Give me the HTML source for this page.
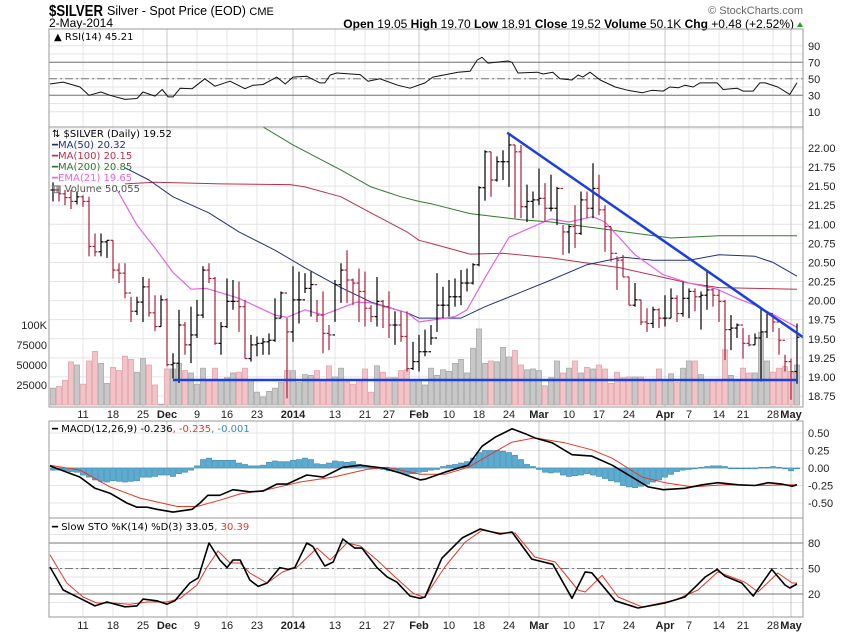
<!DOCTYPE html>
<html><head><meta charset="utf-8"><style>
html,body{margin:0;padding:0;background:#fff;}
svg{display:block;font-family:"Liberation Sans",sans-serif;}
.ax{font-size:11px;fill:#222;}
.lg{font-family:"DejaVu Sans",sans-serif;font-size:10px;}
</style></head><body>
<svg id="chart" width="850" height="633" viewBox="0 0 850 633" xmlns="http://www.w3.org/2000/svg">
<rect x="0" y="0" width="850" height="633" fill="#fff"/>
<defs>
<clipPath id="cR"><rect x="49" y="29" width="754" height="98"/></clipPath>
<clipPath id="cP"><rect x="49" y="127" width="754" height="280"/></clipPath>
<clipPath id="cM"><rect x="49" y="421" width="754" height="97"/></clipPath>
<clipPath id="cS"><rect x="49" y="518" width="754" height="99"/></clipPath>
</defs>
<text x="49" y="16" font-size="16" font-weight="bold" fill="#000" textLength="54" lengthAdjust="spacingAndGlyphs">$SILVER</text>
<text x="107" y="15" font-size="12.5" fill="#000">Silver - Spot Price (EOD) <tspan font-size="11">CME</tspan></text>
<text x="49" y="27" font-size="12" fill="#000">2-May-2014</text>
<text x="803" y="14" font-size="11" fill="#666" text-anchor="end">© StockCharts.com</text>
<text x="794" y="28" font-size="12" fill="#000" text-anchor="end"><tspan font-weight="bold">Open</tspan> 19.05 <tspan font-weight="bold">High</tspan> 19.70 <tspan font-weight="bold">Low</tspan> 18.91 <tspan font-weight="bold">Close</tspan> 19.52 <tspan font-weight="bold">Volume</tspan> 50.1K <tspan font-weight="bold">Chg</tspan> +0.48 (+2.52%)</text>
<polygon points="797,27 803,27 800,22" fill="#2a9a2a"/>
<g id="layer"></g>
</svg>
<script>
// ---------- data ----------
const dateLabelIdx=[5,10,15,19,24,29,34,40,47,52,56,61,66,71,76,81,86,91,96,102,106,111,115,120,123];
const dateLabels=['11','18','25','Dec','9','16','23','2014','13','21','27','Feb','10','18','24','Mar','10','17','24','Apr','7','14','21','28','May'];
const highs=[21.55,21.50,21.45,21.45,21.43,21.38,21.36,20.88,20.88,20.79,20.79,20.49,20.49,20.05,20.05,20.31,20.29,20.07,20.07,20.03,19.31,19.88,19.72,19.92,20.01,20.45,20.49,20.31,19.72,20.29,20.27,20.25,20.01,19.55,19.53,19.51,19.57,20.03,20.12,19.77,20.45,20.38,20.36,20.38,20.01,20.12,19.68,20.27,20.49,20.66,20.29,20.42,20.38,19.94,20.31,20.01,20.12,19.86,19.86,19.86,19.46,19.55,19.62,19.68,20.36,20.18,20.27,20.29,20.40,20.42,20.49,21.50,21.97,21.95,21.89,21.97,22.19,22.04,22.04,21.52,21.43,21.73,21.54,21.65,21.49,20.99,20.99,21.25,21.43,21.43,21.80,21.65,21.25,20.97,20.58,20.60,20.31,20.23,20.01,19.90,19.92,19.90,20.07,20.16,20.07,20.25,20.16,20.16,20.12,20.40,20.16,20.14,20.01,19.81,19.70,19.64,19.55,19.57,19.90,19.83,19.81,19.64,19.29,19.24,19.70];
const lows=[21.30,21.30,21.25,21.20,21.26,21.23,20.58,20.58,20.58,20.56,20.29,20.23,20.03,19.72,19.81,19.72,19.79,19.60,19.66,19.14,18.98,18.92,19.29,19.18,19.51,19.77,20.23,19.42,19.29,19.64,19.88,19.59,19.24,19.20,19.27,19.29,19.29,19.46,19.77,18.72,19.46,19.70,20.10,19.79,19.72,19.31,19.35,19.72,19.97,19.97,19.94,19.72,19.66,19.72,19.66,19.64,19.51,19.42,19.46,19.07,19.09,19.07,19.27,19.42,19.59,19.77,19.79,19.92,19.94,20.12,20.21,20.45,21.31,21.36,21.56,21.58,21.49,21.08,21.08,21.03,21.08,21.25,21.03,21.17,20.99,20.60,20.62,20.69,20.86,21.08,21.08,21.12,20.64,20.51,20.14,20.31,19.94,19.92,19.68,19.59,19.64,19.64,19.66,19.77,19.72,19.79,19.77,19.86,19.62,19.88,19.92,19.72,19.22,19.35,19.51,19.24,19.40,19.42,18.94,19.51,19.59,19.29,19.07,18.70,18.91];
const closes=[21.45,21.40,21.35,21.30,21.36,21.30,20.71,20.64,20.77,20.79,20.40,20.36,20.10,19.86,19.98,20.18,19.84,19.66,20.01,19.16,19.18,19.68,19.42,19.55,19.81,20.40,20.29,19.44,19.66,19.99,19.99,19.92,19.24,19.42,19.44,19.46,19.48,19.77,20.10,19.59,20.01,20.01,20.16,20.21,19.81,19.57,19.55,20.21,20.40,20.27,20.23,20.12,19.90,19.79,19.99,19.92,19.68,19.68,19.53,19.11,19.20,19.33,19.33,19.51,19.94,19.94,20.05,20.05,20.23,20.23,20.47,21.48,21.95,21.58,21.82,21.82,22.04,21.95,21.23,21.30,21.32,21.34,21.21,21.21,21.47,20.90,20.97,20.88,21.32,21.21,21.47,21.19,20.97,20.62,20.53,20.31,19.94,20.01,19.72,19.70,19.88,19.77,19.77,20.03,19.83,20.03,20.12,20.05,20.07,20.14,20.07,19.99,19.62,19.64,19.68,19.44,19.42,19.51,19.59,19.83,19.72,19.48,19.20,19.07,19.52];
const volumesK=[21,23,31,54,50,26,55,67,52,27,47,43,61,57,41,58,50,25,1,45,45,52,43,40,26,46,31,46,31,34,40,41,46,31,16,10,17,21,28,43,43,28,38,37,43,31,49,35,46,29,26,32,45,16,49,41,34,34,43,44,30,32,25,46,37,44,42,52,57,40,71,95,52,55,54,72,60,68,50,44,45,43,24,34,55,40,46,55,40,47,45,50,45,27,41,34,35,35,35,30,30,45,31,39,28,46,55,55,38,31,31,32,69,37,31,46,40,40,91,55,41,46,48,42,50];
const ma50Idx=[12,16,20,26,31,37,42,48,53,59,61,68,72,78,83,89,95,100,106,111,117,120,124];
const ma50Val=[21.74,21.58,21.36,21.15,20.9,20.66,20.43,20.17,19.98,19.84,19.77,19.77,19.92,20.11,20.27,20.47,20.57,20.53,20.53,20.6,20.58,20.5,20.32];
const ma100Idx=[12,17,28,39.5,42,48,53,59,61,63,69.5,75,83,94.5,106,111,117,124];
const ma100Val=[21.53,21.55,21.53,21.52,21.49,21.36,21.15,20.9,20.79,20.75,20.61,20.62,20.56,20.43,20.23,20.17,20.16,20.15];
const ma200Idx=[32,34.5,40,48,53,58,61,63,69.5,78,83,94.5,103,111,124];
const ma200Val=[22.45,22.3,22.04,21.71,21.49,21.36,21.3,21.27,21.14,21.06,21.03,20.91,20.82,20.85,20.85];
const emaIdx=[10.7,14,17,20,23,25.6,31,37,39,42,45,50.6,53,59,61,67,69,72,76,80.6,83,86,90,92,97,101.7,106,110.7,114,117,119.5,124];
const emaVal=[21.45,20.99,20.69,20.37,20.15,20.16,20.03,19.81,19.78,19.88,19.81,19.98,19.97,19.84,19.72,19.79,19.88,20.3,20.83,20.99,21.07,21.03,21.1,21.03,20.6,20.34,20.23,20.15,20.03,19.94,19.84,19.65];
const trendIdx=[75.7,125];
const trendVal=[22.2,19.52];
const supportIdx=[20,124];
const supportVal=[18.96,18.96];
const rsiIdx=[-0.5,1.7,4.5,6,8,9.5,12,14,15,17,18.2,19.2,20,21.2,23.2,25.3,27,29.5,32,33.3,35,37.3,38.7,40,42.3,44.5,45.3,46.2,47.3,51.2,52.5,54.5,57.5,59.5,62,63.3,67.5,69.5,70.7,71.5,72.5,75.8,76.5,77.5,80.7,81.7,83.3,84.5,86.5,87.5,88.3,89.5,91.2,93.7,95.8,98.2,99.8,101.7,102.8,104.2,105.3,106.7,107.8,109,110.7,111.7,114,115,116.7,117.8,118.7,120.8,122.8,124];
const rsiVal=[43.6,46,40,30,34,30,25,26,34,29,37,28,28,38.5,38,50,41,47,38,42,43,52,43.6,52,53,45,45,54.5,57,55,47,50,42,38.5,45,52,58,59,72.7,76,69,71.5,70,57,58,55.8,58,50,48.5,54.5,52,58,48.5,40,36,33,36,35,40,39,42,40,45,45,45,37,38.5,35,35,45,45,40,31,45.2];
const macdIdx=[-0.5,4.5,7,9.5,12.3,14,15.7,17.3,20,23.2,24.5,25.8,27.8,30,32.8,35,37.3,39,42.3,45,48.3,51.2,55,57.8,61.2,62,65.3,69.2,71.5,73.7,76.5,78.7,80.3,83.2,86.5,89.8,93.2,96.5,99.2,101.7,105.3,108.2,110.8,114.2,117,119.2,121.5,123.2,124];
const macdVal=[0.03,-0.13,-0.29,-0.36,-0.5,-0.56,-0.56,-0.59,-0.63,-0.59,-0.5,-0.39,-0.39,-0.31,-0.34,-0.33,-0.23,-0.23,-0.1,-0.13,0.01,0.04,0,-0.07,-0.17,-0.16,-0.06,0.04,0.31,0.44,0.56,0.49,0.43,0.36,0.19,0.17,0.04,-0.13,-0.27,-0.31,-0.29,-0.24,-0.21,-0.24,-0.25,-0.21,-0.23,-0.26,-0.24];
const signalIdx=[-0.5,4.5,9.5,14.5,20.7,24,27.8,31.2,35.7,41.2,46.7,52.3,55.7,61.2,65.3,69.2,73.2,76.5,80.3,85.3,89.8,93.2,98.2,102,106.5,112,117,124];
const signalVal=[0.04,-0.03,-0.27,-0.43,-0.55,-0.55,-0.46,-0.37,-0.31,-0.2,-0.13,-0.02,0.01,-0.09,-0.09,0.01,0.21,0.37,0.43,0.36,0.26,0.14,-0.13,-0.21,-0.27,-0.24,-0.25,-0.24];
const histVal=[-0.03,-0.03,-0.04,-0.05,-0.06,-0.1,-0.13,-0.17,-0.19,-0.2,-0.18,-0.19,-0.2,-0.19,-0.18,-0.13,-0.13,-0.12,-0.1,-0.1,-0.12,-0.08,-0.06,-0.03,0.03,0.12,0.14,0.11,0.11,0.11,0.11,0.07,0.05,0.03,0.03,0.04,0.08,0.1,0.09,0.09,0.11,0.12,0.14,0.12,0.06,0.05,0.07,0.1,0.09,0.08,0.09,0.05,0.03,0.01,0,-0.02,-0.04,-0.05,-0.07,-0.09,-0.08,-0.06,-0.05,-0.03,-0.02,0.02,0.04,0.05,0.07,0.09,0.14,0.22,0.25,0.25,0.25,0.24,0.22,0.18,0.12,0.05,0.02,-0.02,-0.06,-0.07,-0.06,-0.1,-0.12,-0.11,-0.1,-0.08,-0.1,-0.12,-0.15,-0.18,-0.2,-0.25,-0.27,-0.28,-0.26,-0.23,-0.2,-0.17,-0.13,-0.09,-0.05,-0.03,-0.02,0,0.01,0.02,0.03,0.03,0.02,0,-0.01,-0.01,-0.01,0,0.01,0.01,0.02,0.01,0,-0.04,0];
const stoKIdx=[-0.5,1.7,4.5,7,9,12,14,15,17.3,19,20.3,22.8,24.2,26,27.8,29,30,31.2,32.8,34.2,35.7,37.8,39.2,40.3,42.3,43.3,45.3,46.7,48.3,50.3,51.5,54,55.7,57.3,59.5,61.2,62,64.8,68.2,71.2,74.5,76.5,79.8,83.3,86.5,88.7,89.8,93.7,97.5,102,105.3,107,108.7,110.7,112,114.8,116.7,119.8,122,122.8,124];
const stoKVal=[51.8,24.7,15,6,10.6,5,6,14,12,8,12,33,39,80,60,51,60,60,36.5,29,33,51,49,51,80,76,53,57.6,84.7,74,74,51,40,34,17.6,15,16.5,62,86,96.5,90.6,93,61,55,15,46,45,12,3.5,9.4,16.5,28,40,49,41,33,17.6,49,30.6,27,31.8];
const stoDIdx=[-0.5,2.3,5,7.3,10,12.8,15.7,19,21.2,24,25.7,27.5,29.5,31.2,32.8,35.7,38.3,40.7,44,46.2,49,51.2,54,56.7,60,61.7,62,65.3,68.7,71.5,74.5,77,80.3,83.7,87.5,88.7,91.5,94.2,98.2,103.7,107.5,110.8,115.3,117.5,120.8,123.2,124];
const stoDVal=[66,33,16.5,9.4,9.4,8,10.6,10.6,15,30.6,51.8,70.6,56.5,56.5,44.7,33,46,51.8,74,60,80,76.5,60,42,21,16.5,16.5,51.8,81,95,91.8,91.8,63.5,57.6,24.7,22.4,42,16.5,4.7,13,24.7,46,34,22.4,44.7,33,33];

// ---------- scales ----------
const xi=i=>53+6*i;
const yP=p=>148+(22-p)*76.3;
const yV=v=>405-0.8*v;
const yR=v=>120-0.825*v;
const yM=v=>468-70*v;
const yS=v=>611-0.85*v;

const NS='http://www.w3.org/2000/svg';
const root=document.getElementById('layer');
function mk(tag,attrs,parent){const e=document.createElementNS(NS,tag);for(const k in attrs)e.setAttribute(k,attrs[k]);(parent||root).appendChild(e);return e;}
function txt(x,y,s,cls,anchor,parent){const t=mk('text',{x:x,y:y,class:cls,'text-anchor':anchor||'start'},parent);t.textContent=s;return t;}

const panels=[{y:29,h:98,n:'rsi-panel'},{y:127,h:280,n:'price-panel'},{y:421,h:97,n:'macd-panel'},{y:518,h:99,n:'sto-panel'}];
const months=['Dec','2014','Feb','Mar','Apr','May'];

function hgrid(vals,fy,clr){vals.forEach(v=>{const l=mk('line',{x1:49,x2:803,y1:fy(v),y2:fy(v),stroke:clr,'stroke-width':1});

});}
hgrid([10,20,30,40,50,60,70,80,90],yR,'#e4e4e4');
const pt=[];for(let p=18.75;p<=22.26;p+=0.25)pt.push(+p.toFixed(2));
hgrid(pt,yP,'#e4e4e4');
hgrid([0.5,0.25,0,-0.25,-0.5],yM,'#e4e4e4');
hgrid([10,20,30,40,50,60,70,80,90],yS,'#e4e4e4');
dateLabelIdx.forEach((ix,k)=>{panels.forEach(p=>{const l=mk('line',{x1:xi(ix),x2:xi(ix),y1:p.y,y2:p.y+p.h,stroke:months.includes(dateLabels[k])?'#c8c8c8':'#e4e4e4','stroke-width':1});

});});

function refLine(y,dash,name){const l=mk('line',{x1:49,x2:803,y1:y,y2:y,stroke:'#777','stroke-width':1});if(dash)l.setAttribute('stroke-dasharray','8,3,2,3');

}
refLine(yR(70),false,'rsi-70-line');refLine(yR(30),false,'rsi-30-line');refLine(yR(50),true,'rsi-50-line');
refLine(yS(80),false,'sto-80-line');refLine(yS(20),false,'sto-20-line');refLine(yS(50),true,'sto-50-line');

[90,70,50,30,10].forEach(v=>{const t=txt(808,yR(v)+4,String(v),'ax');

});
['18.75','19.00','19.25','19.50','19.75','20.00','20.25','20.50','20.75','21.00','21.25','21.50','21.75','22.00'].forEach(s=>{const t=txt(808,yP(+s)+4,s,'ax');

});
[['25000',25],['50000',50],['75000',75],['100K',100]].forEach(a=>{const t=txt(47,yV(a[1])+4,a[0],'ax','end');

});
['0.50','0.25','0.00','-0.25','-0.50'].forEach(s=>{const t=txt(808,yM(+s)+4,s,'ax');

});
[80,50,20].forEach(v=>{const t=txt(808,yS(v)+4,String(v),'ax');

});
[418,629].forEach(yy=>{dateLabels.forEach((s,k)=>{const t=txt(xi(dateLabelIdx[k]),yy,s,'ax','middle');if(months.includes(s))t.setAttribute('font-weight','bold');

});});

const gR=mk('g',{'clip-path':'url(#cR)'});


const gP=mk('g',{'clip-path':'url(#cP)'});


const gM=mk('g',{'clip-path':'url(#cM)'});


const gS=mk('g',{'clip-path':'url(#cS)'});



function pline(ix,vals,fy,clr,w,parent,name){const d=ix.map((v,k)=>(k?'L':'M')+xi(v).toFixed(1)+','+fy(vals[k]).toFixed(1)).join('');
const p=mk('path',{d:d,fill:'none',stroke:clr,'stroke-width':w,'stroke-linejoin':'round'},parent);

return p;}

volumesK.forEach((v,i)=>{const up=i===0||closes[i]>=closes[i-1];
const r=mk('rect',{x:xi(i)-2.5,y:yV(v),width:5,height:405-yV(v),fill:up?'#c8c8c8':'#f2c4c8',stroke:up?'#a8a8a8':'#e2a2aa','stroke-width':0.8},gP);

});

pline(ma200Idx,ma200Val,yP,'#2f7a2f',1,gP,'ma200-line');
pline(ma100Idx,ma100Val,yP,'#b8324e',1,gP,'ma100-line');
pline(ma50Idx,ma50Val,yP,'#22307a',1,gP,'ma50-line');
pline(emaIdx,emaVal,yP,'#e266e2',1.2,gP,'ema21-line');

closes.forEach((c,i)=>{const up=i===0||c>=closes[i-1];const col=up?'#000':'#a8203e';const x=xi(i);const o=i?closes[i-1]:c;
const g=mk('g',{stroke:col,'stroke-width':1.2},gP);


mk('line',{x1:x,x2:x,y1:yP(highs[i]),y2:yP(lows[i])},g);
mk('line',{x1:x-2.5,x2:x,y1:yP(o),y2:yP(o)},g);
mk('line',{x1:x,x2:x+2.5,y1:yP(c),y2:yP(c)},g);});

pline(trendIdx,trendVal,yP,'#1a3ee0',2.5,gP,'resistance-trendline');
pline(supportIdx,supportVal,yP,'#1a3ee0',2.5,gP,'support-line');

pline(rsiIdx,rsiVal,yR,'#111',1,gR,'rsi-line');
histVal.forEach((v,i)=>{const y0=yM(0),y1=yM(v);
const r=mk('rect',{x:xi(i)-2.5,y:Math.min(y0,y1),width:5,height:Math.max(0.8,Math.abs(y1-y0)),fill:'#5cacd2',stroke:'#3a8ab4','stroke-width':0.7},gM);

});
pline(signalIdx,signalVal,yM,'#e03a2a',1,gM,'macd-signal-line');
pline(macdIdx,macdVal,yM,'#000',1.6,gM,'macd-line');
pline(stoDIdx,stoDVal,yS,'#e03a2a',1,gS,'sto-d-line');
pline(stoKIdx,stoKVal,yS,'#000',1.6,gS,'sto-k-line');

panels.forEach(p=>{const r=mk('rect',{x:49,y:p.y,width:754,height:p.h,fill:'none',stroke:'#999','stroke-width':1});

});

function leg(x,y,parts,name){const t=mk('text',{x:x,y:y,class:'lg'});parts.forEach(pp=>{const s=mk('tspan',{fill:pp[1]},t);s.textContent=pp[0];});

return t;}
leg(54,40,[['▲ RSI(14) 45.21','#000']],'rsi-legend');
leg(52,137,[['⇅ $SILVER (Daily) 19.52','#000']],'price-legend');
leg(52,148,[['━','#22307a'],['MA(50) 20.32','#22307a']],'ma50-legend');
leg(52,159,[['━','#b8324e'],['MA(100) 20.15','#b8324e']],'ma100-legend');
leg(52,170,[['━','#2f7a2f'],['MA(200) 20.85','#2f7a2f']],'ma200-legend');
leg(52,181,[['━','#e266e2'],['EMA(21) 19.65','#e266e2']],'ema21-legend');
leg(52,192,[['▥ Volume 50,055','#555']],'volume-legend');
leg(52,432,[['━ MACD(12,26,9) -0.236','#000'],[', -0.235','#e03a2a'],[', -0.001','#3a8ab4']],'macd-legend');
leg(52,530,[['━ Slow STO %K(14) %D(3) 33.05','#000'],[', 30.39','#e03a2a']],'sto-legend');
</script>
</body></html>
